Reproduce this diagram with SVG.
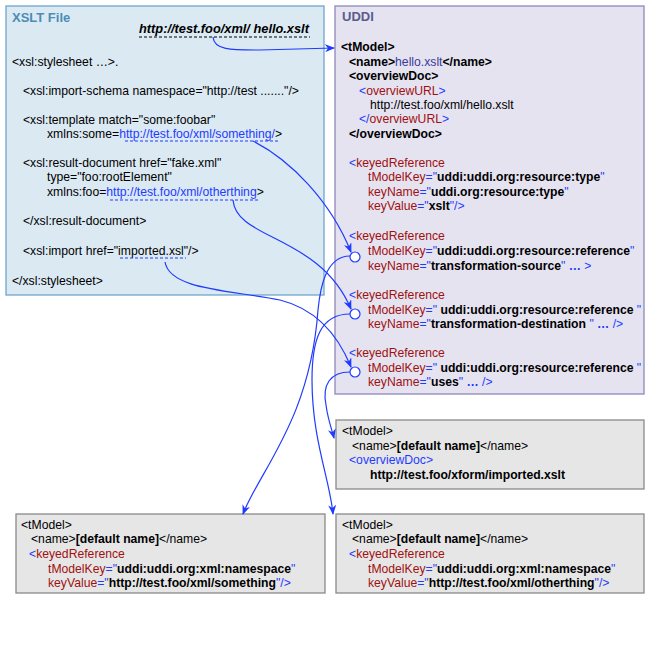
<svg xmlns="http://www.w3.org/2000/svg" width="650" height="650" viewBox="0 0 650 650">
<defs>
<marker id="ar" markerWidth="10" markerHeight="8" refX="9" refY="4" orient="auto" markerUnits="userSpaceOnUse"><path d="M0,0 L10,4 L0,8 L3,4 Z" fill="#1f3bff"/></marker>
<style>
text{font-family:"Liberation Sans",Arial,sans-serif;font-size:12.2px;fill:#000}
.b{font-weight:bold}.bl{fill:#1f3bff}.r{fill:#a01010}.n{fill:#3a3a9a}
.c{fill:none;stroke:#1f3bff;stroke-width:1.2}
.g{fill:#e6e6e6;stroke:#8a8a8a;stroke-width:1.3}
.u{stroke:#1f3bff;stroke-dasharray:3,2;stroke-width:1}
</style>
</defs>
<rect width="650" height="650" fill="#fff"/>
<g id="xslt">
<rect x="6" y="6" width="318" height="289" fill="#dbe9f3" stroke="#6fa6cb" stroke-width="1.3"/>
<text x="12" y="22" class="b" style="font-size:13px;fill:#4a8db5">XSLT File</text>
<text x="139" y="33" class="b" style="font-style:italic;font-size:12.8px">http://test.foo/xml/ hello.xslt</text>
<line x1="139" y1="37" x2="310" y2="37" stroke="#000" stroke-dasharray="3,2"/>
<text x="12" y="66">&lt;xsl:stylesheet …&gt;.</text>
<text x="23" y="95">&lt;xsl:import-schema namespace="http://test ......."/&gt;</text>
<text x="23" y="124">&lt;xsl:template match="some:foobar"</text>
<text x="47" y="138">xmlns:some=<tspan class="bl">http://test.foo/xml/something/</tspan>&gt;</text>
<line x1="125" y1="141" x2="280" y2="141" class="u"/>
<text x="23" y="167">&lt;xsl:result-document href="fake.xml"</text>
<text x="47" y="181">type="foo:rootElement"</text>
<text x="47" y="196">xmlns:foo=<tspan class="bl">http://test.foo/xml/otherthing</tspan>&gt;</text>
<line x1="110" y1="200" x2="260" y2="200" class="u"/>
<text x="23" y="225">&lt;/xsl:result-document&gt;</text>
<text x="23" y="255">&lt;xsl:import href="imported.xsl"/&gt;</text>
<line x1="120" y1="258" x2="186" y2="258" class="u"/>
<text x="12" y="285">&lt;/xsl:stylesheet&gt;</text>
</g>
<g id="uddi">
<rect x="335" y="6" width="309" height="388" fill="#e5e3f0" stroke="#8f88ba" stroke-width="1.3"/>
<text x="342" y="21" class="b" style="font-size:13px;fill:#5b5b8e">UDDI</text>
<text x="341" y="51" class="b">&lt;tModel&gt;</text>
<text x="349" y="66"><tspan class="b">&lt;name&gt;</tspan><tspan class="n">hello.xslt</tspan><tspan class="b">&lt;/name&gt;</tspan></text>
<text x="349" y="80" class="b">&lt;overviewDoc&gt;</text>
<text x="359" y="95"><tspan class="bl">&lt;</tspan><tspan class="r">overviewURL</tspan><tspan class="bl">&gt;</tspan></text>
<text x="370" y="109">http://test.foo/xml/hello.xslt</text>
<text x="359" y="123"><tspan class="bl">&lt;/</tspan><tspan class="r">overviewURL</tspan><tspan class="bl">&gt;</tspan></text>
<text x="349" y="138" class="b">&lt;/overviewDoc&gt;</text>
<text x="349" y="167"><tspan class="bl">&lt;</tspan><tspan class="r">keyedReference</tspan></text>
<text x="368" y="181"><tspan class="r">tModelKey</tspan><tspan class="bl">="</tspan><tspan class="b">uddi:uddi.org:resource:type</tspan><tspan class="bl">"</tspan></text>
<text x="368" y="196"><tspan class="r">keyName</tspan><tspan class="bl">="</tspan><tspan class="b">uddi.org:resource:type</tspan><tspan class="bl">"</tspan></text>
<text x="368" y="210"><tspan class="r">keyValue</tspan><tspan class="bl">="</tspan><tspan class="b">xslt</tspan><tspan class="bl">"/&gt;</tspan></text>
<text x="349" y="240"><tspan class="bl">&lt;</tspan><tspan class="r">keyedReference</tspan></text>
<text x="368" y="255"><tspan class="r">tModelKey</tspan><tspan class="bl">="</tspan><tspan class="b">uddi:uddi.org:resource:reference</tspan><tspan class="bl">"</tspan></text>
<text x="368" y="270"><tspan class="r">keyName</tspan><tspan class="bl">="</tspan><tspan class="b">transformation-source</tspan><tspan class="bl">"  <tspan class="b">…</tspan> &gt;</tspan></text>
<text x="349" y="299"><tspan class="bl">&lt;</tspan><tspan class="r">keyedReference</tspan></text>
<text x="368" y="314"><tspan class="r">tModelKey</tspan><tspan class="bl">="</tspan><tspan class="b"> uddi:uddi.org:resource:reference </tspan><tspan class="bl">"</tspan></text>
<text x="368" y="328"><tspan class="r">keyName</tspan><tspan class="bl">="</tspan><tspan class="b">transformation-destination </tspan><tspan class="bl">" <tspan class="b">…</tspan> /&gt;</tspan></text>
<text x="349" y="357"><tspan class="bl">&lt;</tspan><tspan class="r">keyedReference</tspan></text>
<text x="368" y="372"><tspan class="r">tModelKey</tspan><tspan class="bl">="</tspan><tspan class="b"> uddi:uddi.org:resource:reference </tspan><tspan class="bl">"</tspan></text>
<text x="368" y="386"><tspan class="r">keyName</tspan><tspan class="bl">="</tspan><tspan class="b">uses</tspan><tspan class="bl">" <tspan class="b">…</tspan> /&gt;</tspan></text>
</g>
<g id="imported">
<rect x="336" y="420" width="308" height="69" class="g"/>
<text x="342" y="435">&lt;tModel&gt;</text>
<text x="352" y="450">&lt;name&gt;<tspan class="b">[default name]</tspan>&lt;/name&gt;</text>
<text x="349" y="464" class="bl">&lt;overviewDoc&gt;</text>
<text x="370" y="479" class="b">http://test.foo/xform/imported.xslt</text>
</g>
<g id="something">
<rect x="16" y="514" width="309" height="79" class="g"/>
<text x="21" y="529">&lt;tModel&gt;</text>
<text x="31" y="543">&lt;name&gt;<tspan class="b">[default name]</tspan>&lt;/name&gt;</text>
<text x="29" y="558"><tspan class="bl">&lt;</tspan><tspan class="r">keyedReference</tspan></text>
<text x="48" y="573"><tspan class="r">tModelKey</tspan><tspan class="bl">="</tspan><tspan class="b">uddi:uddi.org:xml:namespace</tspan><tspan class="bl">"</tspan></text>
<text x="48" y="587"><tspan class="r">keyValue</tspan><tspan class="bl">="</tspan><tspan class="b">http://test.foo/xml/something</tspan><tspan class="bl">"/&gt;</tspan></text>
</g>
<g id="otherthing">
<rect x="336" y="514" width="308" height="79" class="g"/>
<text x="342" y="529">&lt;tModel&gt;</text>
<text x="352" y="543">&lt;name&gt;<tspan class="b">[default name]</tspan>&lt;/name&gt;</text>
<text x="349" y="558"><tspan class="bl">&lt;</tspan><tspan class="r">keyedReference</tspan></text>
<text x="368" y="573"><tspan class="r">tModelKey</tspan><tspan class="bl">="</tspan><tspan class="b">uddi:uddi.org:xml:namespace</tspan><tspan class="bl">"</tspan></text>
<text x="368" y="587"><tspan class="r">keyValue</tspan><tspan class="bl">="</tspan><tspan class="b">http://test.foo/xml/otherthing</tspan><tspan class="bl">"/&gt;</tspan></text>
</g>
<g id="connectors">
<path class="c" marker-end="url(#ar)" d="M213,37 C214,50 230,50 260,50 L334,48"/>
<path class="c" marker-end="url(#ar)" d="M253,141 C290,160 330,200 351,252"/>
<path class="c" marker-end="url(#ar)" d="M233,200 C236,240 320,235 351,309"/>
<path class="c" marker-end="url(#ar)" d="M165,262 C170,290 230,290 280,300 C320,310 340,340 351,367"/>
<circle cx="355" cy="257" r="5" fill="#fff" stroke="#1f3bff" stroke-width="1.2"/>
<circle cx="355" cy="314" r="5" fill="#fff" stroke="#1f3bff" stroke-width="1.2"/>
<circle cx="355" cy="372" r="5" fill="#fff" stroke="#1f3bff" stroke-width="1.2"/>
<path class="c" marker-end="url(#ar)" d="M350,256 C325,256 320,290 318,310 C310,420 260,470 243,514"/>
<path class="c" marker-end="url(#ar)" d="M350,314 C320,314 312,340 312,380 C312,440 330,480 333,514"/>
<path class="c" marker-end="url(#ar)" d="M350,372 C330,372 322,385 326,405 C328,420 332,430 334,438"/>
</g>
</svg>
